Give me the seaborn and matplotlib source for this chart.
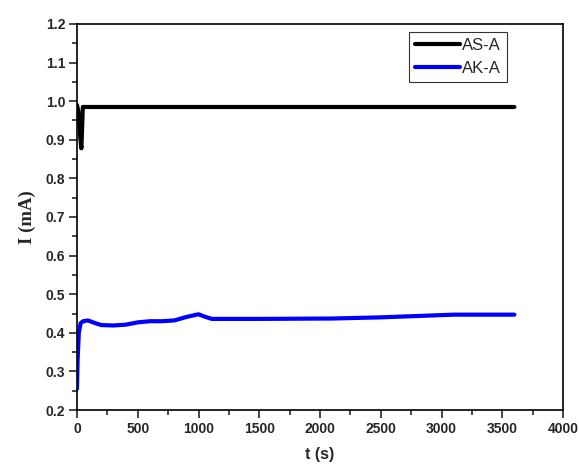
import matplotlib
matplotlib.use("Agg")
import matplotlib.pyplot as plt
from matplotlib.ticker import MultipleLocator, FormatStrFormatter
import pandas as pd
import seaborn as sns

# Current response of the two samples
t_as = [0, 10, 20, 30, 36, 42, 48, 60, 600, 1200, 2400, 3600]
i_as = [0.990, 0.975, 0.935, 0.895, 0.878, 0.930, 0.985, 0.985, 0.985, 0.985, 0.985, 0.985]

t_ak = [0, 5, 15, 30, 50, 90, 150, 200, 300, 400, 500, 600, 700, 800, 900, 1000,
        1050, 1110, 1500, 2100, 2500, 3100, 3600]
i_ak = [0.255, 0.330, 0.400, 0.425, 0.430, 0.432, 0.425, 0.420, 0.419, 0.421, 0.427,
        0.430, 0.430, 0.432, 0.441, 0.448, 0.442, 0.436, 0.436, 0.437, 0.440, 0.447, 0.447]

series_names = ["AS-A", "AK-A"]
series_colors = ["#000000", "#0000ff"]

df = pd.concat([
    pd.DataFrame({"t": t_as, "I": i_as, "sample": series_names[0]}),
    pd.DataFrame({"t": t_ak, "I": i_ak, "sample": series_names[1]}),
])

sns.set_style("ticks")
plt.rcParams["font.family"] = ["Liberation Sans", "DejaVu Sans"]

fig = plt.figure(figsize=(5.79, 4.68), dpi=100)
ax = fig.add_axes([77 / 579, 1 - 410 / 468, (563 - 77) / 579, (410 - 24) / 468])

sns.lineplot(data=df, x="t", y="I", hue="sample", palette=series_colors,
             hue_order=series_names, sort=False, estimator=None, linewidth=3, ax=ax)

ax.set_xlim(0, 4000)
ax.set_ylim(0.2, 1.2)
ax.xaxis.set_major_locator(MultipleLocator(500))
ax.xaxis.set_minor_locator(MultipleLocator(250))
ax.yaxis.set_major_locator(MultipleLocator(0.1))
ax.yaxis.set_minor_locator(MultipleLocator(0.05))
ax.yaxis.set_major_formatter(FormatStrFormatter("%.1f"))

ax.tick_params(axis="both", which="major", direction="out", length=6, width=1.2,
               labelsize=10, pad=2.5)
ax.tick_params(axis="both", which="minor", direction="out", length=3.5, width=1.2)
ax.tick_params(top=False, right=False, which="both")
for lbl in ax.get_xticklabels() + ax.get_yticklabels():
    lbl.set_fontweight("bold")

for s in ax.spines.values():
    s.set_visible(True)
    s.set_linewidth(1.2)
    s.set_color("black")

ax.set_xlabel("t (s)", fontsize=11.5, fontweight="bold", labelpad=8)
ax.set_ylabel("I (mA)", fontsize=13.5, fontweight="bold",
              family=["Liberation Serif", "DejaVu Serif"], labelpad=7)

leg = ax.legend(loc="upper right", bbox_to_anchor=(0.885, 0.978), fontsize=12,
                frameon=True, fancybox=False, edgecolor="black", handlelength=2.7,
                handletextpad=0.15, borderpad=0.35, labelspacing=0.45,
                borderaxespad=0)
leg.get_frame().set_linewidth(0.8)
leg.set_title(None)

fig.savefig("out.png", dpi=100)
